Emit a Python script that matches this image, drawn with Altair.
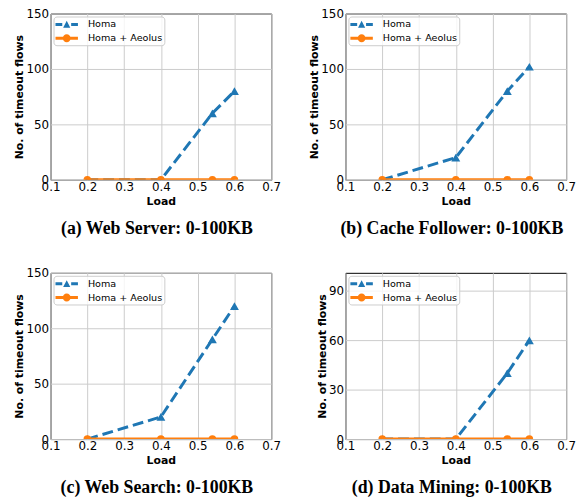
import altair as alt
import pandas as pd

# ---- data ----
loads = [0.2, 0.4, 0.54, 0.6]
series_names = ["Homa", "Homa + Aeolus"]

homa_a = [0, 0, 60, 80]
aeolus_a = [0, 0, 0, 0]
homa_b = [0, 20, 80, 102]
aeolus_b = [0, 0, 0, 0]
homa_c = [0, 20, 90, 120]
aeolus_c = [0, 0, 0, 0]
homa_d = [0, 0, 40, 60]
aeolus_d = [0, 0, 0, 0]

titles = [
    "(a) Web Server: 0-100KB",
    "(b) Cache Follower: 0-100KB",
    "(c) Web Search: 0-100KB",
    "(d) Data Mining: 0-100KB",
]
x_ticks = [0.1, 0.2, 0.3, 0.4, 0.5, 0.6, 0.7]
y_ticks_150 = [0, 50, 100, 150]
y_ticks_90 = [0, 30, 60, 90]

BLUE = "#1f77b4"
ORANGE = "#ff7f0e"

# legend glyphs: line + marker (unit = sqrt(symbolSize)/2 = 6 px)
PATH_HOMA = ("M-1.89,-0.25H-0.75V0.25H-1.89Z M0.75,-0.25H1.89V0.25H0.75Z "
             "M-0.6,0.55L0.6,0.55L0,-0.6Z")
PATH_AEOLUS = ("M-1.89,-0.25H1.89V0.25H-1.89Z "
               "M-0.67,0A0.67,0.67 0 1,1 0.67,0A0.67,0.67 0 1,1 -0.67,0Z")


def panel(homa, aeolus, title, ymax, yticks):
    df_h = pd.DataFrame({"load": loads, "flows": homa})
    df_a = pd.DataFrame({"load": loads, "flows": aeolus})
    df_leg = pd.DataFrame({"series": series_names, "load": [-1, -1], "flows": [-1, -1]})

    x = alt.X("load:Q",
              scale=alt.Scale(domain=[0.1, 0.7], nice=False, zero=False),
              axis=alt.Axis(values=x_ticks, format=".1f", title="Load",
                            labelFlush=False, labelOverlap=False))
    y = alt.Y("flows:Q",
              scale=alt.Scale(domain=[0, ymax], nice=False),
              axis=alt.Axis(values=yticks, title="No. of timeout flows",
                            labelFlush=False, labelOverlap=False))

    leg = alt.Legend(orient="top-left", offset=3, title=None,
                     labelFont="DejaVu Sans", labelFontSize=9.7, labelColor="black",
                     symbolSize=144, symbolStrokeWidth=0, symbolOpacity=1,
                     symbolOffset=5.33, labelOffset=15.4, padding=2, rowPadding=3,
                     strokeColor="#cccccc", fillColor="rgba(255,255,255,0.8)",
                     cornerRadius=3)

    legend_layer = alt.Chart(df_leg).mark_point(filled=True, clip=True, opacity=1, size=144).encode(
        x=x, y=y,
        color=alt.Color("series:N", scale=alt.Scale(domain=series_names, range=[BLUE, ORANGE]), legend=leg),
        shape=alt.Shape("series:N", scale=alt.Scale(domain=series_names, range=[PATH_HOMA, PATH_AEOLUS]), legend=leg),
    )

    homa_line = alt.Chart(df_h).mark_line(color=BLUE, strokeWidth=3, strokeDash=[11, 5], clip=True).encode(x=x, y=y)
    homa_pts = alt.Chart(df_h).mark_point(shape="triangle-up", filled=True, size=81, color=BLUE,
                                          opacity=1, clip=True).encode(x=x, y=y)
    aeo_line = alt.Chart(df_a).mark_line(color=ORANGE, strokeWidth=3, clip=True).encode(x=x, y=y)
    aeo_pts = alt.Chart(df_a).mark_point(shape="circle", filled=True, size=59, color=ORANGE,
                                         opacity=1, clip=True).encode(x=x, y=y)

    return alt.layer(legend_layer, homa_line, homa_pts, aeo_line, aeo_pts).properties(
        width=223, height=168,
        title=alt.TitleParams(title, orient="bottom", anchor="middle", frame="group", offset=14, dx=-4),
    )


pa = panel(homa_a, aeolus_a, titles[0], 150, y_ticks_150)
pb = panel(homa_b, aeolus_b, titles[1], 150, y_ticks_150)
pc = panel(homa_c, aeolus_c, titles[2], 150, y_ticks_150)
pd_ = panel(homa_d, aeolus_d, titles[3], 101, y_ticks_90)

chart = alt.concat(pa, pb, pc, pd_, columns=2, spacing={"row": 94, "column": 75}, bounds="flush").properties(
    padding={"left": 5, "top": -4, "right": 2, "bottom": 2}
).resolve_scale(
    color="independent", shape="independent"
).configure_view(
    stroke="black", strokeWidth=1
).configure_axis(
    labelFont="DejaVu Sans", labelFontSize=12, labelColor="black",
    titleFont="DejaVu Sans", titleFontSize=11, titleFontWeight="bold", titleColor="black",
    gridColor="#cbcbcb", gridWidth=1, domain=False, ticks=False, labelPadding=2,
).configure_axisX(
    titlePadding=3
).configure_axisY(
    titlePadding=1
).configure_title(
    font="Liberation Serif", fontSize=18, fontWeight="bold", color="black"
)

chart.save("out.html", embed_options={"renderer": "svg", "actions": False})
